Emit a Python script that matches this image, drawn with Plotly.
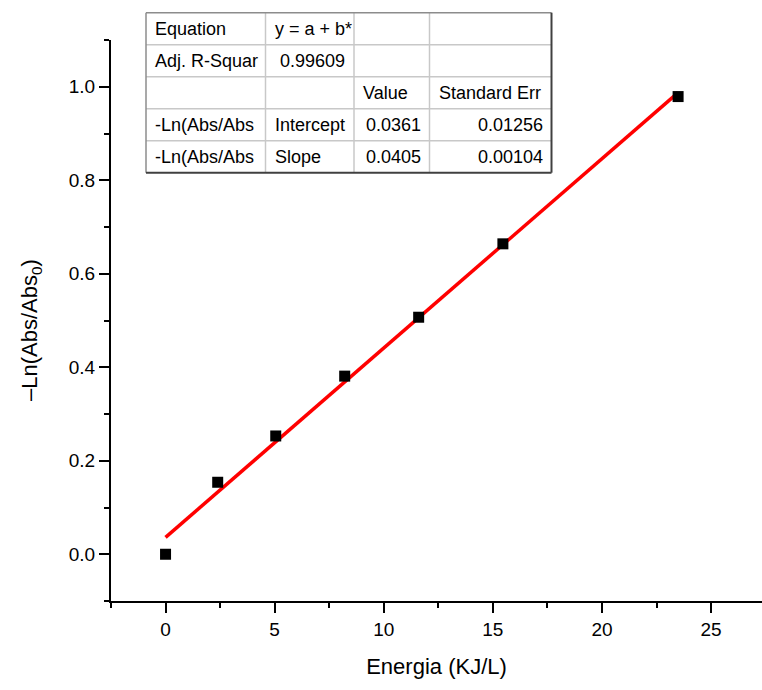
import plotly.graph_objects as go

# Measured data: energy dose vs. -ln(Abs/Abs0)
energia = [0.0, 2.39, 5.05, 8.21, 11.6, 15.46, 23.49]
ln_ratio = [0.0, 0.154, 0.253, 0.381, 0.507, 0.664, 0.979]

# Linear fit results (y = a + b*x)
intercept = 0.0361
intercept_err = 0.01256
slope = 0.0405
slope_err = 0.00104
adj_r2 = 0.99609

x_ticks = [0, 5, 10, 15, 20, 25]
y_ticks = [0.0, 0.2, 0.4, 0.6, 0.8, 1.0]

# Fit summary table rows
table_rows = [
    ["Equation", "y = a + b*", "", ""],
    ["Adj. R-Squar", f"{adj_r2:.5f}", "", ""],
    ["", "", "Value", "Standard Err"],
    ["-Ln(Abs/Abs", "Intercept", f"{intercept:.4f}", f"{intercept_err:.5f}"],
    ["-Ln(Abs/Abs", "Slope", f"{slope:.4f}", f"{slope_err:.5f}"],
]

FONT = "Liberation Sans, Arial, sans-serif"
W, H = 762, 690
M_L, M_R, M_T, M_B = 111, 0, 40, 89
PW, PH = W - M_L - M_R, H - M_T - M_B


def px(xp):
    return (xp - M_L) / PW


def py(yp):
    return (H - M_B - yp) / PH


fit_x = [min(energia), max(energia)]
fit_y = [intercept + slope * v for v in fit_x]

fig = go.Figure()
fig.add_trace(go.Scatter(
    x=fit_x, y=fit_y, mode="lines",
    line=dict(color="#ff0000", width=3.5), showlegend=False,
))
fig.add_trace(go.Scatter(
    x=energia, y=ln_ratio, mode="markers",
    marker=dict(symbol="square", size=11, color="black"), showlegend=False,
))

axis_common = dict(
    showline=True, linecolor="black", linewidth=2,
    ticks="outside", ticklen=10, tickwidth=2, tickcolor="black",
    showgrid=False, zeroline=False,
    tickfont=dict(family=FONT, size=19, color="black"),
)

fig.update_xaxes(
    range=[-2.5, -2.5 + PW / 21.82],
    tickvals=x_ticks, ticktext=[str(v) for v in x_ticks],
    minor=dict(dtick=2.5, tick0=0, ticks="outside", ticklen=5, tickwidth=2, tickcolor="black"),
    title=dict(text="Energia (KJ/L)", font=dict(family=FONT, size=22, color="black"), standoff=20),
    **axis_common,
)
fig.update_yaxes(
    range=[-0.1, 1.1],
    tickvals=y_ticks, ticktext=[f"{v:.1f}" for v in y_ticks],
    minor=dict(dtick=0.1, tick0=0, ticks="outside", ticklen=5, tickwidth=2, tickcolor="black"),
    **axis_common,
)

# Fit summary table drawn as bordered cells
col_edges = [146, 265.5, 354, 429.5, 551.5]
row_edges = [12.7, 44.7, 76.7, 108.7, 140.7, 172.7]
shapes = []
shapes.append(dict(type="rect", xref="paper", yref="paper",
                   x0=px(col_edges[0]), x1=px(col_edges[-1]),
                   y0=py(row_edges[-1]), y1=py(row_edges[0]),
                   fillcolor="white", line=dict(width=0), layer="above"))
for ye in row_edges[1:-1]:
    shapes.append(dict(type="line", xref="paper", yref="paper",
                       x0=px(col_edges[0]), x1=px(col_edges[-1]), y0=py(ye), y1=py(ye),
                       line=dict(color="#c8c8c8", width=1.5), layer="above"))
for xe in col_edges[1:-1]:
    shapes.append(dict(type="line", xref="paper", yref="paper",
                       x0=px(xe), x1=px(xe), y0=py(row_edges[0]), y1=py(row_edges[-1]),
                       line=dict(color="#c8c8c8", width=1.5), layer="above"))
# outer border: lighter top/left, darker right/bottom
shapes.append(dict(type="line", xref="paper", yref="paper",
                   x0=px(col_edges[0]), x1=px(col_edges[-1]), y0=py(row_edges[0]), y1=py(row_edges[0]),
                   line=dict(color="#8c8c8c", width=1.5), layer="above"))
shapes.append(dict(type="line", xref="paper", yref="paper",
                   x0=px(col_edges[0]), x1=px(col_edges[0]), y0=py(row_edges[0]), y1=py(row_edges[-1]),
                   line=dict(color="#8c8c8c", width=1.5), layer="above"))
shapes.append(dict(type="line", xref="paper", yref="paper",
                   x0=px(col_edges[-1]), x1=px(col_edges[-1]), y0=py(row_edges[0]), y1=py(row_edges[-1]),
                   line=dict(color="#404040", width=2), layer="above"))
shapes.append(dict(type="line", xref="paper", yref="paper",
                   x0=px(col_edges[0]), x1=px(col_edges[-1]), y0=py(row_edges[-1]), y1=py(row_edges[-1]),
                   line=dict(color="#404040", width=2), layer="above"))

annotations = []
pad = 7
for r, row in enumerate(table_rows):
    yc = (row_edges[r] + row_edges[r + 1]) / 2
    for c, txt in enumerate(row):
        if not txt:
            continue
        numeric = txt.replace(".", "", 1).isdigit()
        if numeric:
            xa, anchor = col_edges[c + 1] - pad, "right"
        else:
            xa, anchor = col_edges[c] + pad, "left"
        annotations.append(dict(
            xref="paper", yref="paper", x=px(xa), y=py(yc),
            xanchor=anchor, yanchor="middle", text=txt, showarrow=False,
            font=dict(family=FONT, size=18, color="black"),
        ))

# y-axis title
annotations.append(dict(
    xref="paper", yref="paper", x=px(31), y=py(330),
    xanchor="center", yanchor="middle", textangle=-90,
    text="–Ln(Abs/Abs<sub>0</sub>)", showarrow=False,
    font=dict(family=FONT, size=22, color="black"),
))

fig.update_layout(
    width=W, height=H,
    margin=dict(l=M_L, r=M_R, t=M_T, b=M_B),
    paper_bgcolor="white", plot_bgcolor="white",
    shapes=shapes, annotations=annotations,
)

fig.write_html("out.html")
